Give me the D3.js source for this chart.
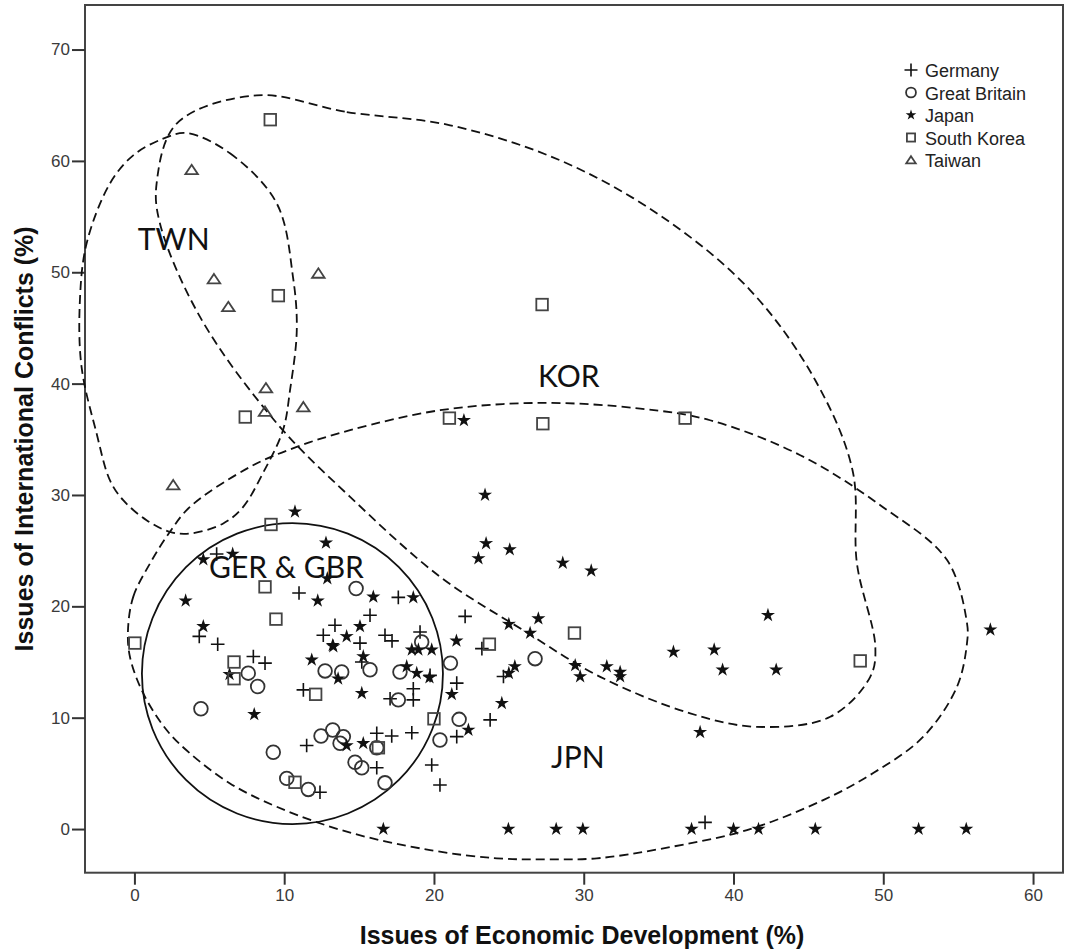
<!DOCTYPE html>
<html><head><meta charset="utf-8">
<script src="https://cdn.jsdelivr.net/npm/d3@7"></script>
<style>
html,body{margin:0;padding:0;background:#fff;}
svg{display:block;}
</style></head>
<body>
<svg id="chart" width="1075" height="951"></svg>
<script>
// ---------- data (x = Economic Development %, y = International Conflicts %) ----------
const germany = [[5.49,24.7],[10.99,21.2],[13.39,18.3],[12.61,17.4],[4.33,17.3],[5.56,16.6],[7.94,15.5],[8.72,14.9],[11.28,12.5],[11.5,7.5],[12.39,3.3],[17.62,20.8],[15.73,19.2],[15.06,16.7],[16.73,17.4],[17.2,16.9],[19.07,17.7],[19.74,13.8],[18.62,12.6],[17.07,11.7],[18.62,11.6],[21.52,13.1],[21.52,8.3],[23.75,9.8],[24.64,13.7],[16.18,8.6],[17.18,8.35],[18.52,8.65],[16.18,5.5],[19.85,5.75],[20.4,3.95],[22.08,19.1],[23.2,16.2],[38.1,0.6],[15.18,15.0]];
const greatBritain = [[12.73,14.2],[13.84,14.1],[7.6,14.0],[8.23,12.8],[4.44,10.8],[12.46,8.35],[13.24,8.9],[13.95,8.3],[13.73,7.7],[9.27,6.9],[10.17,4.55],[11.61,3.56],[14.8,21.6],[19.18,16.8],[21.1,14.9],[15.73,14.3],[17.73,14.1],[17.62,11.6],[21.68,9.85],[20.4,8.0],[16.18,7.3],[14.73,6.0],[15.18,5.5],[16.73,4.15],[26.75,15.3]];
const japan = [[10.72,28.5],[12.79,25.7],[4.6,24.2],[6.56,24.7],[12.88,22.5],[12.24,20.5],[3.42,20.5],[14.17,17.3],[13.24,16.5],[4.6,18.2],[11.84,15.2],[6.35,13.9],[13.6,13.5],[8.0,10.3],[14.17,7.5],[23.41,30.0],[23.48,25.65],[25.06,25.1],[22.97,24.3],[15.95,20.85],[18.62,20.8],[15.06,18.2],[18.52,16.1],[18.96,16.1],[19.85,16.1],[13.28,16.4],[15.28,15.5],[21.5,16.9],[25.0,18.4],[25.4,14.6],[18.85,14.0],[15.18,12.2],[18.18,14.6],[19.7,13.6],[21.19,12.1],[22.3,8.9],[24.53,11.3],[25.0,14.0],[15.28,7.7],[16.62,0],[24.97,0],[22.0,36.7],[28.6,23.9],[30.5,23.2],[26.97,18.9],[26.42,17.6],[29.43,14.7],[31.54,14.6],[32.43,14.1],[35.99,15.9],[29.76,13.7],[32.43,13.7],[42.3,19.2],[38.71,16.1],[39.27,14.3],[42.85,14.3],[57.15,17.9],[37.77,8.7],[37.2,0],[40.0,0],[41.67,0],[45.46,0],[52.36,0],[55.54,0],[28.16,0],[29.94,0]];
const southKorea = [[9.07,63.7],[9.61,47.9],[7.40,37.0],[9.12,27.35],[8.72,21.75],[9.45,18.85],[0.03,16.7],[6.65,15.0],[6.65,13.5],[12.1,12.1],[10.72,4.2],[16.29,7.3],[20.0,9.9],[23.7,16.6],[29.38,17.6],[21.03,36.9],[27.27,36.4],[36.77,36.9],[27.22,47.1],[48.46,15.1]];
const taiwan = [[3.82,59.2],[5.31,49.4],[12.28,49.9],[6.27,46.9],[8.78,39.6],[8.72,37.5],[11.28,37.9],[2.59,30.9]];

const xTicks = [0,10,20,30,40,50,60];
const yTicks = [0,10,20,30,40,50,60,70];
const xTitle = "Issues of Economic Development (%)";
const yTitle = "Issues of International Conflicts (%)";
const legendLabels = ["Germany","Great Britain","Japan","South Korea","Taiwan"];
const markerKinds = ["plus","circle","star","square","triangle"];

// hand-drawn group outlines (data units)
const twnOutline = [[3.49,62.5],[6.38,60.68],[9.5,56.19],[10.59,49.55],[10.84,44.79],[10.39,39.41],[9.92,35.82],[8.58,31.96],[7.25,28.91],[5.93,27.44],[3.71,26.54],[2.37,26.69],[0.81,27.74],[-0.75,29.53],[-1.64,31.33],[-2.53,35.55],[-3.53,41.5],[-3.64,47.49],[-3.19,52.6],[-1.64,57.96],[-0.08,60.5],[1.92,62.0]];
const korOutline = [[8.16,65.89],[14.18,64.39],[21.08,63.2],[28.42,60.05],[35.1,55.1],[41.12,48.38],[45.46,40.3],[47.95,32.2],[48.24,23.85],[49.47,16.36],[49.13,13.67],[46.46,10.08],[41.56,9.18],[37.11,10.39],[31.1,13.67],[25.95,17.86],[20.41,22.65],[14.4,29.83],[9.5,36.45],[4.38,45.99],[1.7,54.4],[1.48,57.96],[2.82,63.35]];
const jpnOutline = [[-0.43,17.86],[-0.08,20.85],[1.04,23.85],[2.37,26.69],[3.71,28.93],[7.72,32.52],[10.84,34.32],[14.4,35.82],[20.41,37.61],[27.09,38.27],[33.77,37.76],[38.44,36.71],[44.46,33.57],[49.8,29.08],[54.26,24.15],[55.59,18.49],[55.59,16.7],[54.92,12.77],[52.67,8.29],[49.33,5.03],[45.99,2.6],[40.9,-0.09],[35.32,-1.73],[30.88,-2.63],[27.54,-2.72],[24.2,-2.63],[19.74,-1.89],[14.18,-0.24],[9.5,2.0],[6.38,4.1],[3.71,6.8],[2.15,8.89],[0.59,12.18],[-0.3,15.47]];
const gerGbrCenter = [10.55,13.96];
const gerGbrRadii = [10.05,13.51];

const regionLabels = ["TWN","KOR","GER & GBR","JPN"];
const regionLabelX = [0.23,26.95,4.98,27.82];
const regionLabelY = [51.97,39.68,22.53,5.48];

// ---------- chart ----------
const svg = d3.select("#chart");
const x = d3.scaleLinear().domain([-3.3,62.0]).range([85,1063]);
const y = d3.scaleLinear().domain([-3.92,74.0]).range([872.7,5]);

function starPath(R){
  const r = R*0.38; let p="";
  for(let i=0;i<10;i++){
    const a = -Math.PI/2 + i*Math.PI/5;
    const rr = i%2===0?R:r;
    p += (i===0?"M":"L") + (rr*Math.cos(a)).toFixed(2)+","+(rr*Math.sin(a)).toFixed(2);
  }
  return p+"Z";
}
function drawMarker(g, kind, s){
  if(kind==="plus"){
    g.append("path").attr("d",`M${-s},0H${s}M0,${-s}V${s}`).attr("stroke","#111").attr("stroke-width",1.6).attr("fill","none");
  } else if(kind==="circle"){
    g.append("circle").attr("r",s*0.95).attr("stroke","#333").attr("stroke-width",1.8).attr("fill","none");
  } else if(kind==="star"){
    g.append("path").attr("d",starPath(s)).attr("fill","#111");
  } else if(kind==="square"){
    const h=s*0.85;
    g.append("rect").attr("x",-h).attr("y",-h).attr("width",2*h).attr("height",2*h).attr("stroke","#444").attr("stroke-width",1.8).attr("fill","none");
  } else if(kind==="triangle"){
    const w=s*0.95;
    g.append("path").attr("d",`M0,${-w*0.8}L${w},${w*0.7}L${-w},${w*0.7}Z`).attr("stroke","#444").attr("stroke-width",1.8).attr("fill","none").attr("stroke-linejoin","miter");
  }
}

// frame
svg.append("rect").attr("x",x(-3.3)).attr("y",y(74.0)).attr("width",x(62.0)-x(-3.3)).attr("height",y(-3.92)-y(74.0))
  .attr("fill","none").attr("stroke","#444").attr("stroke-width",2);

// axes
const gx = svg.append("g").attr("transform",`translate(0,${y(-3.92)})`)
  .call(d3.axisBottom(x).tickValues(xTicks).tickSize(12).tickPadding(4).tickFormat(d3.format("d")));
const gy = svg.append("g").attr("transform",`translate(${x(-3.3)},0)`)
  .call(d3.axisLeft(y).tickValues(yTicks).tickSize(13).tickPadding(2).tickFormat(d3.format("d")));
[gx,gy].forEach(g=>{
  g.select(".domain").remove();
  g.selectAll(".tick line").attr("stroke","#333").attr("stroke-width",2);
  g.selectAll(".tick text").attr("fill","#3a3a3a").style("font-family","'Liberation Sans',Arial,sans-serif").style("font-size","17px");
});

// titles
svg.append("text").attr("x",(x(-3.3)+x(62))/2+8).attr("y",944).attr("text-anchor","middle")
  .style("font-family","'Liberation Sans',Arial,sans-serif").style("font-weight","bold").style("font-size","25px").attr("fill","#111").text(xTitle);
svg.append("text").attr("transform",`translate(33,${(y(74)+y(-3.92))/2})rotate(-90)`).attr("text-anchor","middle")
  .style("font-family","'Liberation Sans',Arial,sans-serif").style("font-weight","bold").style("font-size","25px").attr("fill","#111").text(yTitle);

// outlines
const closed = d3.line().x(d=>x(d[0])).y(d=>y(d[1])).curve(d3.curveCatmullRomClosed.alpha(0.5));
[twnOutline,korOutline,jpnOutline].forEach(o=>{
  svg.append("path").attr("d",closed(o)).attr("fill","none").attr("stroke","#111").attr("stroke-width",1.8).attr("stroke-dasharray","9,5");
});
svg.append("ellipse").attr("cx",x(gerGbrCenter[0])).attr("cy",y(gerGbrCenter[1]))
  .attr("rx",x(gerGbrRadii[0])-x(0)).attr("ry",y(0)-y(gerGbrRadii[1]))
  .attr("fill","none").attr("stroke","#111").attr("stroke-width",1.8);

// points
const series = [germany,greatBritain,japan,southKorea,taiwan];
series.forEach((pts,i)=>{
  const sz = [6.8,7.2,7.4,6.8,6.6][i];
  pts.forEach(p=>{
    const g = svg.append("g").attr("transform",`translate(${x(p[0])},${y(p[1])})`);
    drawMarker(g, markerKinds[i], sz);
  });
});

// region labels
regionLabels.forEach((t,i)=>{
  svg.append("text").attr("x",x(regionLabelX[i])).attr("y",y(regionLabelY[i]))
    .style("font-family","Lato,'Open Sans',sans-serif").style("font-size","30px").attr("fill","#111").text(t);
});

// legend
const lg = svg.append("g");
legendLabels.forEach((t,i)=>{
  const yy = 70 + i*22.5;
  const g = lg.append("g").attr("transform",`translate(911,${yy})`);
  drawMarker(g, markerKinds[i], [6.5,5.2,5.6,4.8,5][i]);
  lg.append("text").attr("x",925).attr("y",yy+7).style("font-family","'Liberation Sans',Arial,sans-serif")
    .style("font-size","18px").attr("fill","#222").text(t);
});
</script>
</body></html>
